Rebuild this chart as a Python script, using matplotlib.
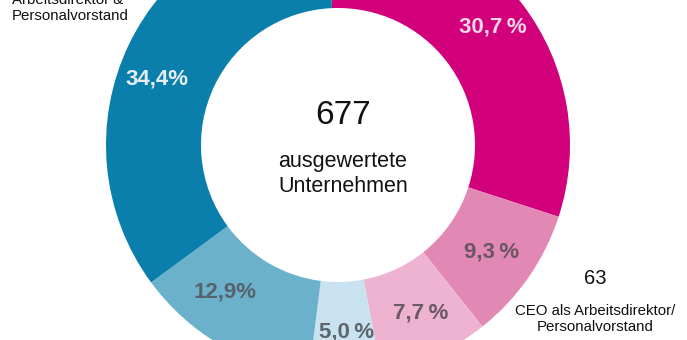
import matplotlib
matplotlib.use("Agg")
import matplotlib.pyplot as plt

plt.rcParams['font.family'] = ['Liberation Sans', 'DejaVu Sans']

# Data (clockwise from 12 o'clock)
categories = ["Frau/Mann A", "Segment B", "Segment C", "Segment D", "Segment E",
              "Arbeitsdirektor & Personalvorstand"]
values = [30.7, 9.3, 7.7, 5.0, 12.9, 34.4]
colors = ["#d3007b", "#e288b5", "#efb3d2", "#c8e3ef", "#6cb1cc", "#0b7fab"]
label_colors = ["#f6d6e7", "#6a5560", "#6a5a62", "#5d666c", "#56636b", "#e4eef4"]
pct_sep = ["\u2009", "\u2009", "\u2009", "\u2009", "", ""]
# label centres in pixel coordinates (x from left, y from top)
label_pos = [(493, 27), (492, 252), (421, 313), (347, 332), (225, 292), (157, 79)]

total_n = "677"
center_text = "ausgewertete\nUnternehmen"
ceo_n = "63"
ceo_text = "CEO als Arbeitsdirektor/\nPersonalvorstand"
topleft_text = "Arbeitsdirektor &\nPersonalvorstand"

W, H = 687, 340
fig = plt.figure(figsize=(W / 100, H / 100), dpi=100)
ax = fig.add_axes([0, 0, 1, 1])

cx, cy = 338, H - 145
ax.pie(values, colors=colors, startangle=92.5, counterclock=False,
       radius=232, center=(cx, cy),
       wedgeprops=dict(width=95, edgecolor='none', linewidth=0))

for v, c, s, (px, py) in zip(values, label_colors, pct_sep, label_pos):
    txt = f"{v:.1f}".replace(".", ",") + s + "%"
    ax.text(px, H - py, txt, ha='center', va='center', fontsize=16,
            fontweight='bold', color=c)

ax.text(cx + 5, H - 115, total_n, ha='center', va='center', fontsize=24,
        color='#111111')
ax.text(cx + 5, H - 174, center_text, ha='center', va='center', fontsize=15.5,
        color='#111111', linespacing=1.2)

ax.text(595, H - 279, ceo_n, ha='center', va='center', fontsize=14.5,
        color='#111111')
ax.text(595, H - 319, ceo_text, ha='center', va='center', fontsize=10.8,
        color='#111111', linespacing=1.2)

ax.text(12, H - 8, topleft_text, ha='left', va='center', fontsize=10.8,
        color='#111111', linespacing=1.2)

ax.set_xlim(0, W)
ax.set_ylim(0, H)
ax.set_aspect('equal')
ax.axis('off')

fig.savefig("out.png", dpi=100, facecolor='white')
